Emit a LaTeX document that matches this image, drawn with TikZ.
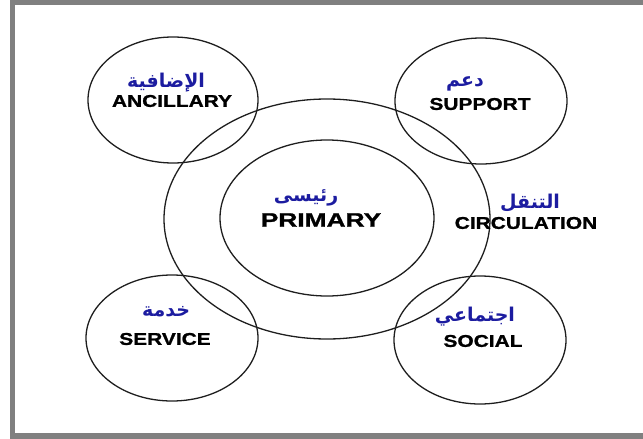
\documentclass[tikz,border=0pt]{standalone}
\usepackage{fontspec}
\usetikzlibrary{shapes.geometric}
\TeXXeTstate=1
\newfontfamily\lblfont{Liberation Sans Bold}[FakeStretch=1.23,FakeBold=1.2]
\newfontfamily\primfont{Liberation Sans Bold}[FakeStretch=1.35,FakeBold=1.2]
\newfontfamily\arabicfont{DejaVu Sans Bold}[Script=Arabic]
\definecolor{arblue}{RGB}{28,28,160}
\definecolor{ringcol}{RGB}{30,30,30}
\definecolor{framegray}{RGB}{128,128,128}
\tikzset{
  ring/.style={ellipse, draw=ringcol, line width=1.3pt, inner sep=0pt},
  entext/.style={inner sep=0pt, text=black, font=\lblfont\fontsize{17}{17}\selectfont},
  bigtext/.style={inner sep=0pt, text=black, font=\primfont\fontsize{19.5}{19.5}\selectfont},
  artext/.style={inner sep=0pt, text=arblue, font=\arabicfont\fontsize{19}{19}\selectfont},
}
\begin{document}
\begin{tikzpicture}[x=1pt,y=-1pt]
\useasboundingbox (0,0) rectangle (643,439);
% frame
\fill[framegray] (10,0) rectangle (643,4.5);
\fill[framegray] (10,0) rectangle (15,439);
\fill[framegray] (10,433) rectangle (643,439);
% rings
\node[ring, minimum width=326pt, minimum height=240pt] (circ) at (327,219) {};
\node[ring, minimum width=214pt, minimum height=156pt] (prim) at (327,218) {};
\node[ring, minimum width=170pt, minimum height=126pt] (anc) at (173,100) {};
\node[ring, minimum width=172pt, minimum height=126pt] (sup) at (481,101) {};
\node[ring, minimum width=172pt, minimum height=126pt] (ser) at (172,338) {};
\node[ring, minimum width=172pt, minimum height=128pt] (soc) at (480,340) {};
% labels
\node[artext] (ancar) at (166,83) {\beginR الإضافية\endR};
\node[entext] (ancen) at (172,101) {ANCILLARY};
\node[artext] (supar) at (465,84) {\beginR دعم\endR};
\node[entext] (supen) at (480,104) {SUPPORT};
\node[artext] (primar) at (306,198) {\beginR رئيسى\endR};
\node[bigtext] (primen) at (321,220) {PRIMARY};
\node[artext] (circar) at (530,203) {\beginR التنقل\endR};
\node[entext] (circen) at (526,223) {CIRCULATION};
\node[artext] (serar) at (166,312) {\beginR خدمة\endR};
\node[entext] (seren) at (165,339) {SERVICE};
\node[artext] (socar) at (475,317) {\beginR اجتماعي\endR};
\node[entext] (socen) at (483,341) {SOCIAL};
\end{tikzpicture}
\end{document}
